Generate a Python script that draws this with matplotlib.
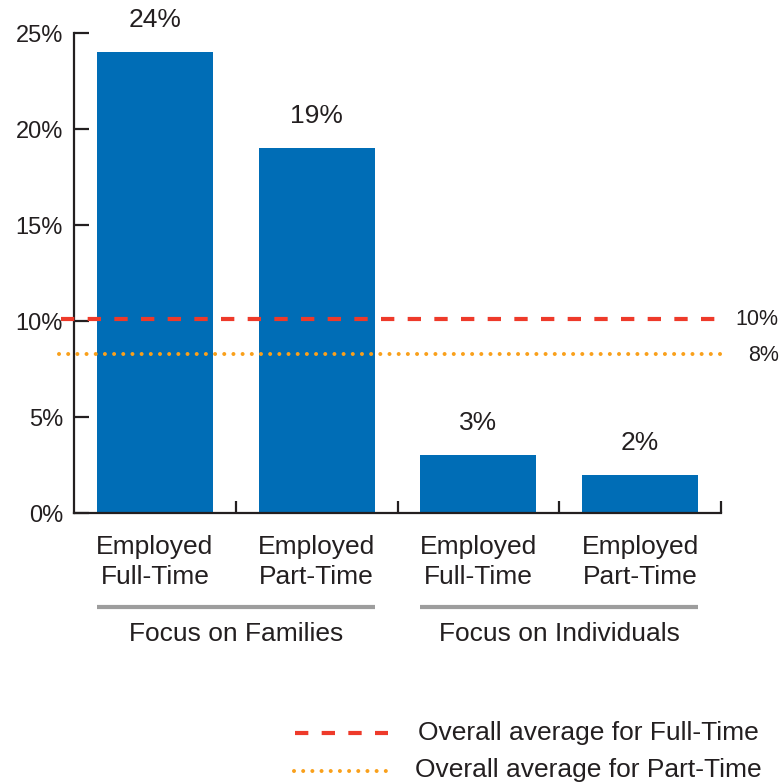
import matplotlib
matplotlib.use('Agg')
import matplotlib.pyplot as plt
import matplotlib.transforms as mtransforms
from matplotlib.lines import Line2D

plt.rcParams['font.family'] = ['Liberation Sans', 'DejaVu Sans']
plt.rcParams['lines.scale_dashes'] = False

# data
categories = ['Employed\nFull-Time', 'Employed\nPart-Time', 'Employed\nFull-Time', 'Employed\nPart-Time']
values = [24, 19, 3, 2]
value_labels = ['24%', '19%', '3%', '2%']
groups = ['Focus on Families', 'Focus on Individuals']
group_span = [(0, 1), (2, 3)]       # bar index range for each group
avg_full = 10.1
avg_part = 8.3
avg_labels = ['10%', '8%']
yticks = [0, 5, 10, 15, 20, 25]
ytick_labels = ['0%', '5%', '10%', '15%', '20%', '25%']

blue = '#006db6'
red = '#ee3a2a'
orange = '#f9a01b'
ink = '#231f20'
grey = '#9d9d9d'
fs = 19

fig = plt.figure(figsize=(7.8, 7.82), dpi=100)
ax = fig.add_axes([74/780, 1 - 513/782, 647/780, 480/782])

x = [i + 0.5 for i in range(len(values))]
w = 0.717
ax.bar(x, values, width=w, color=blue, zorder=2)
ax.set_xlim(0, len(values))
ax.set_ylim(0, 25)

for xi, v, lab in zip(x, values, value_labels):
    ax.annotate(lab, (xi, v), xytext=(0, 23), textcoords='offset points',
                ha='center', va='center', fontsize=fs, color=ink)

# average lines, running slightly past the axes
ax.plot([-0.08, 4.0], [avg_full, avg_full], color=red, lw=3,
        linestyle=(0, (9.6, 9.6)), clip_on=False, zorder=3)
ax.plot([-0.09, 4.05], [avg_part, avg_part], color=orange, lw=2.9,
        linestyle=(0, (0.01, 6.6)), dash_capstyle='round', solid_capstyle='round',
        clip_on=False, zorder=3)
tr = mtransforms.blended_transform_factory(ax.transAxes, ax.transData)
ax.text(1.089, avg_full, avg_labels[0], transform=tr, ha='right', va='center',
        fontsize=15.5, color=ink)
ax.text(1.089, avg_part - 0.1, avg_labels[1], transform=tr, ha='right', va='center',
        fontsize=15.5, color=ink)

# axes styling
for s in ['top', 'right']:
    ax.spines[s].set_visible(False)
for s in ['left', 'bottom']:
    ax.spines[s].set_color(ink)
    ax.spines[s].set_linewidth(1.6)
ax.set_yticks(yticks)
ax.set_yticklabels(ytick_labels, fontsize=17, color=ink)
ax.tick_params(axis='y', direction='in', length=11, width=1.6, color=ink, pad=8)
ax.set_xticks(x)
ax.set_xticklabels(categories, fontsize=fs, color=ink, linespacing=1.33)
ax.tick_params(axis='x', which='major', length=0, pad=15.5)
ax.set_xticks(range(1, len(values) + 1), minor=True)
ax.tick_params(axis='x', which='minor', direction='in', length=9, width=1.6, color=ink)

# group brackets and names
trx = mtransforms.blended_transform_factory(ax.transData, ax.transAxes)
for name, (a, b) in zip(groups, group_span):
    ax.plot([x[a] - w/2, x[b] + w/2], [-0.196, -0.196], color=grey, lw=3,
            transform=trx, clip_on=False, solid_capstyle='butt')
    ax.text((x[a] + x[b]) / 2, -0.252, name, transform=trx, ha='center', va='center',
            fontsize=fs, color=ink)

# legend drawn by hand at the bottom right
fig.add_artist(Line2D([295/780, 388/780], [1 - 733/782] * 2, color=red, lw=3,
                      linestyle=(0, (9.6, 9.6))))
fig.text(418/780, 1 - 733/782, 'Overall average for Full-Time', ha='left', va='center',
         fontsize=fs, color=ink)
fig.add_artist(Line2D([294/780, 388/780], [1 - 771/782] * 2, color=orange, lw=2.9,
                      linestyle=(0, (0.01, 6.6)), dash_capstyle='round'))
fig.text(415/780, 1 - 770/782, 'Overall average for Part-Time', ha='left', va='center',
         fontsize=fs, color=ink)

fig.savefig('out.png', dpi=100)
